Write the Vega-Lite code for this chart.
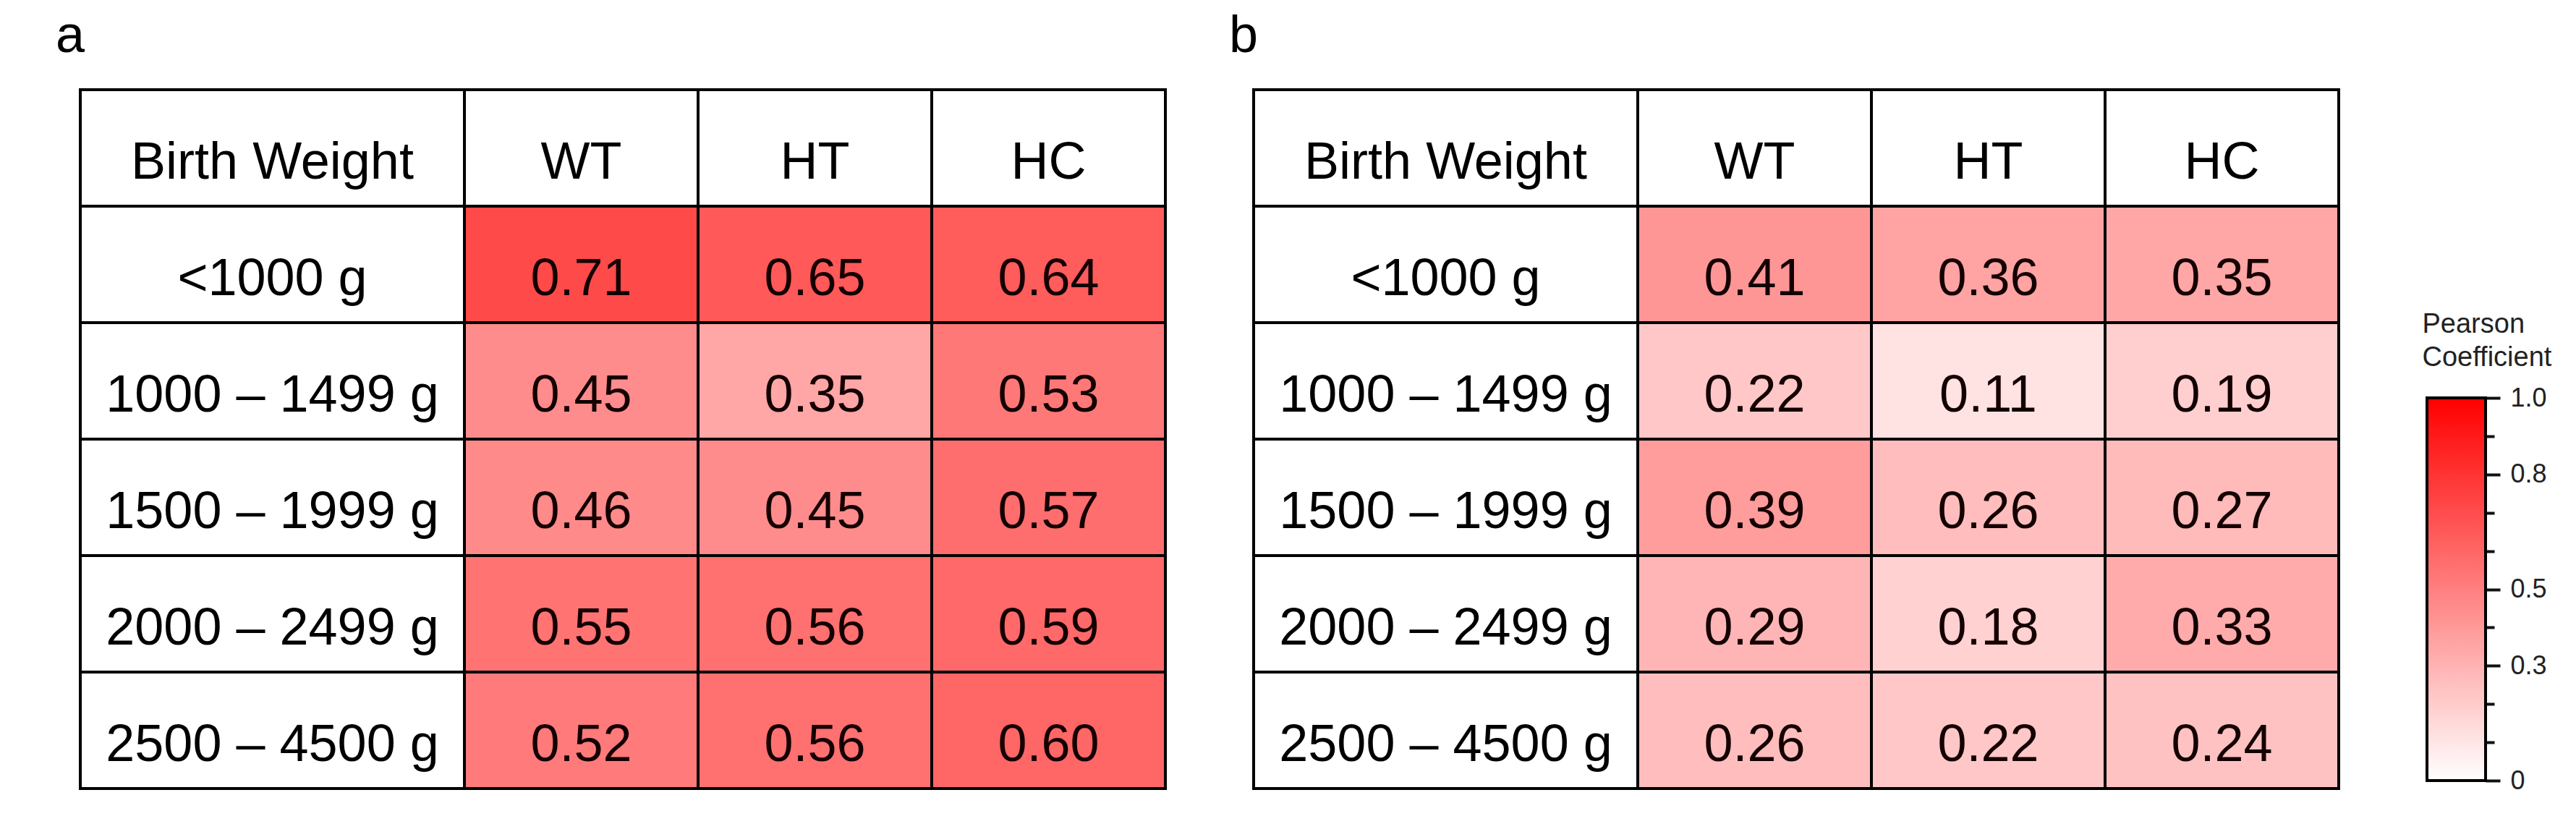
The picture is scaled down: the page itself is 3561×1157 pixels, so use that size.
{
  "$schema": "https://vega.github.io/schema/vega-lite/v6.json",
  "padding": {"left": 77, "top": 14, "right": 5, "bottom": 5},
  "background": "white",
  "config": {"view": {"stroke": null}, "font": "Liberation Sans"},
  "datasets": {
    "rowLabels": [
      {"bw": "Birth Weight"},
      {"bw": "<1000 g"},
      {"bw": "1000 – 1499 g"},
      {"bw": "1500 – 1999 g"},
      {"bw": "2000 – 2499 g"},
      {"bw": "2500 – 4500 g"}
    ],
    "headers": [
      {"measure": "WT", "bw": "Birth Weight"},
      {"measure": "HT", "bw": "Birth Weight"},
      {"measure": "HC", "bw": "Birth Weight"}
    ],
    "a": [
      {"bw": "<1000 g", "measure": "WT", "r": 0.71},
      {"bw": "<1000 g", "measure": "HT", "r": 0.65},
      {"bw": "<1000 g", "measure": "HC", "r": 0.64},
      {"bw": "1000 – 1499 g", "measure": "WT", "r": 0.45},
      {"bw": "1000 – 1499 g", "measure": "HT", "r": 0.35},
      {"bw": "1000 – 1499 g", "measure": "HC", "r": 0.53},
      {"bw": "1500 – 1999 g", "measure": "WT", "r": 0.46},
      {"bw": "1500 – 1999 g", "measure": "HT", "r": 0.45},
      {"bw": "1500 – 1999 g", "measure": "HC", "r": 0.57},
      {"bw": "2000 – 2499 g", "measure": "WT", "r": 0.55},
      {"bw": "2000 – 2499 g", "measure": "HT", "r": 0.56},
      {"bw": "2000 – 2499 g", "measure": "HC", "r": 0.59},
      {"bw": "2500 – 4500 g", "measure": "WT", "r": 0.52},
      {"bw": "2500 – 4500 g", "measure": "HT", "r": 0.56},
      {"bw": "2500 – 4500 g", "measure": "HC", "r": 0.60}
    ],
    "b": [
      {"bw": "<1000 g", "measure": "WT", "r": 0.41},
      {"bw": "<1000 g", "measure": "HT", "r": 0.36},
      {"bw": "<1000 g", "measure": "HC", "r": 0.35},
      {"bw": "1000 – 1499 g", "measure": "WT", "r": 0.22},
      {"bw": "1000 – 1499 g", "measure": "HT", "r": 0.11},
      {"bw": "1000 – 1499 g", "measure": "HC", "r": 0.19},
      {"bw": "1500 – 1999 g", "measure": "WT", "r": 0.39},
      {"bw": "1500 – 1999 g", "measure": "HT", "r": 0.26},
      {"bw": "1500 – 1999 g", "measure": "HC", "r": 0.27},
      {"bw": "2000 – 2499 g", "measure": "WT", "r": 0.29},
      {"bw": "2000 – 2499 g", "measure": "HT", "r": 0.18},
      {"bw": "2000 – 2499 g", "measure": "HC", "r": 0.33},
      {"bw": "2500 – 4500 g", "measure": "WT", "r": 0.26},
      {"bw": "2500 – 4500 g", "measure": "HT", "r": 0.22},
      {"bw": "2500 – 4500 g", "measure": "HC", "r": 0.24}
    ]
  },
  "bounds": "flush",
  "spacing": 122,
  "hconcat": [
    {
      "title": {"text": "a", "anchor": "start", "frame": "group", "fontSize": 72, "fontWeight": "normal", "dx": -34, "offset": -22, "baseline": "alphabetic", "color": "black"},
      "width": 1500, "height": 966,
      "resolve": {"scale": {"x": "independent"}},
      "layer": [
        {
          "data": {"name": "rowLabels"},
          "encoding": {
            "y": {"field": "bw", "type": "nominal", "sort": null, "axis": null,
              "scale": {"domain": ["Birth Weight", "<1000 g", "1000 – 1499 g", "1500 – 1999 g", "2000 – 2499 g", "2500 – 4500 g"], "paddingInner": 0, "paddingOuter": 0}},
            "x": {"datum": "label", "type": "nominal", "axis": null,
              "scale": {"domain": ["label"], "range": [0, 531], "paddingInner": 0, "paddingOuter": 0}}
          },
          "layer": [
            {"mark": {"type": "rect", "fill": "white", "stroke": "black", "strokeWidth": 4}},
            {"mark": {"type": "text", "fontSize": 72, "baseline": "alphabetic", "dy": 42, "color": "black"}, "encoding": {"text": {"field": "bw"}}}
          ]
        },
        {
          "data": {"name": "headers"},
          "encoding": {
            "y": {"field": "bw", "type": "nominal", "sort": null, "axis": null,
              "scale": {"domain": ["Birth Weight", "<1000 g", "1000 – 1499 g", "1500 – 1999 g", "2000 – 2499 g", "2500 – 4500 g"], "paddingInner": 0, "paddingOuter": 0}},
            "x": {"field": "measure", "type": "nominal", "sort": null, "axis": null,
              "scale": {"domain": ["WT", "HT", "HC"], "range": [531, 1500], "paddingInner": 0, "paddingOuter": 0}}
          },
          "layer": [
            {"mark": {"type": "rect", "fill": "white", "stroke": "black", "strokeWidth": 4}},
            {"mark": {"type": "text", "fontSize": 72, "baseline": "alphabetic", "dy": 42, "color": "black"}, "encoding": {"text": {"field": "measure"}}}
          ]
        },
        {
          "data": {"name": "a"},
          "encoding": {
            "y": {"field": "bw", "type": "nominal", "sort": null, "axis": null,
              "scale": {"domain": ["Birth Weight", "<1000 g", "1000 – 1499 g", "1500 – 1999 g", "2000 – 2499 g", "2500 – 4500 g"], "paddingInner": 0, "paddingOuter": 0}},
            "x": {"field": "measure", "type": "nominal", "sort": null, "axis": null,
              "scale": {"domain": ["WT", "HT", "HC"], "range": [531, 1500], "paddingInner": 0, "paddingOuter": 0}}
          },
          "layer": [
            {"mark": {"type": "rect", "stroke": "black", "strokeWidth": 4},
              "encoding": {"color": {"field": "r", "type": "quantitative", "scale": {"domain": [0, 1], "range": ["#ffffff", "#ff0000"], "interpolate": "rgb"}, "legend": null}}},
            {"mark": {"type": "text", "fontSize": 72, "baseline": "alphabetic", "dy": 42, "color": "#140000"}, "encoding": {"text": {"field": "r", "type": "quantitative", "format": ".2f"}}}
          ]
        }
      ]
    },
    {
      "title": {"text": "b", "anchor": "start", "frame": "group", "fontSize": 72, "fontWeight": "normal", "dx": -34, "offset": -22, "baseline": "alphabetic", "color": "black"},
      "width": 1500, "height": 966,
      "resolve": {"scale": {"x": "independent"}},
      "layer": [
        {
          "data": {"name": "rowLabels"},
          "encoding": {
            "y": {"field": "bw", "type": "nominal", "sort": null, "axis": null,
              "scale": {"domain": ["Birth Weight", "<1000 g", "1000 – 1499 g", "1500 – 1999 g", "2000 – 2499 g", "2500 – 4500 g"], "paddingInner": 0, "paddingOuter": 0}},
            "x": {"datum": "label", "type": "nominal", "axis": null,
              "scale": {"domain": ["label"], "range": [0, 531], "paddingInner": 0, "paddingOuter": 0}}
          },
          "layer": [
            {"mark": {"type": "rect", "fill": "white", "stroke": "black", "strokeWidth": 4}},
            {"mark": {"type": "text", "fontSize": 72, "baseline": "alphabetic", "dy": 42, "color": "black"}, "encoding": {"text": {"field": "bw"}}}
          ]
        },
        {
          "data": {"name": "headers"},
          "encoding": {
            "y": {"field": "bw", "type": "nominal", "sort": null, "axis": null,
              "scale": {"domain": ["Birth Weight", "<1000 g", "1000 – 1499 g", "1500 – 1999 g", "2000 – 2499 g", "2500 – 4500 g"], "paddingInner": 0, "paddingOuter": 0}},
            "x": {"field": "measure", "type": "nominal", "sort": null, "axis": null,
              "scale": {"domain": ["WT", "HT", "HC"], "range": [531, 1500], "paddingInner": 0, "paddingOuter": 0}}
          },
          "layer": [
            {"mark": {"type": "rect", "fill": "white", "stroke": "black", "strokeWidth": 4}},
            {"mark": {"type": "text", "fontSize": 72, "baseline": "alphabetic", "dy": 42, "color": "black"}, "encoding": {"text": {"field": "measure"}}}
          ]
        },
        {
          "data": {"name": "b"},
          "encoding": {
            "y": {"field": "bw", "type": "nominal", "sort": null, "axis": null,
              "scale": {"domain": ["Birth Weight", "<1000 g", "1000 – 1499 g", "1500 – 1999 g", "2000 – 2499 g", "2500 – 4500 g"], "paddingInner": 0, "paddingOuter": 0}},
            "x": {"field": "measure", "type": "nominal", "sort": null, "axis": null,
              "scale": {"domain": ["WT", "HT", "HC"], "range": [531, 1500], "paddingInner": 0, "paddingOuter": 0}}
          },
          "layer": [
            {"mark": {"type": "rect", "stroke": "black", "strokeWidth": 4},
              "encoding": {"color": {"field": "r", "type": "quantitative", "scale": {"domain": [0, 1], "range": ["#ffffff", "#ff0000"], "interpolate": "rgb"}, "legend": null}}},
            {"mark": {"type": "text", "fontSize": 72, "baseline": "alphabetic", "dy": 42, "color": "#140000"}, "encoding": {"text": {"field": "r", "type": "quantitative", "format": ".2f"}}}
          ]
        }
      ]
    },
    {
      "width": 81, "height": 955,
      "data": {"values": [{"lo": 0, "hi": 1}]},
      "mark": {"type": "rect", "stroke": "black", "strokeWidth": 4,
        "fill": {"gradient": "linear", "x1": 0, "y1": 1, "x2": 0, "y2": 0,
          "stops": [{"offset": 0, "color": "#ffffff"}, {"offset": 1, "color": "#ff0000"}]}},
      "encoding": {
        "y": {"field": "lo", "type": "quantitative",
          "scale": {"domain": [0, 1.8053], "nice": false, "zero": false},
          "axis": {
            "orient": "right",
            "values": [0, 0.1, 0.2, 0.3, 0.4, 0.5, 0.6, 0.7, 0.8, 0.9, 1],
            "labelExpr": "datum.value == 0 ? '0' : ((datum.value == 0.3 || datum.value == 0.5 || datum.value == 0.8 || datum.value == 1) ? format(datum.value, '.1f') : '')",
            "labelFontSize": 36, "labelColor": "#222", "labelPadding": 14, "labelFlush": false, "labelOverlap": false,
            "tickColor": "#111", "tickWidth": 4,
            "tickSize": {"condition": {"test": "datum.value == 0 || datum.value == 0.3 || datum.value == 0.5 || datum.value == 0.8 || datum.value == 1", "value": 20}, "value": 12},
            "domain": false, "grid": false,
            "title": ["Pearson", "Coefficient"],
            "titleAngle": 0, "titleAlign": "left", "titleBaseline": "alphabetic",
            "titleX": -88, "titleY": 335, "titleFontSize": 38, "titleFontWeight": "normal",
            "titleColor": "#222", "titleLineHeight": 46
          }},
        "y2": {"field": "hi"}
      }
    }
  ]
}
